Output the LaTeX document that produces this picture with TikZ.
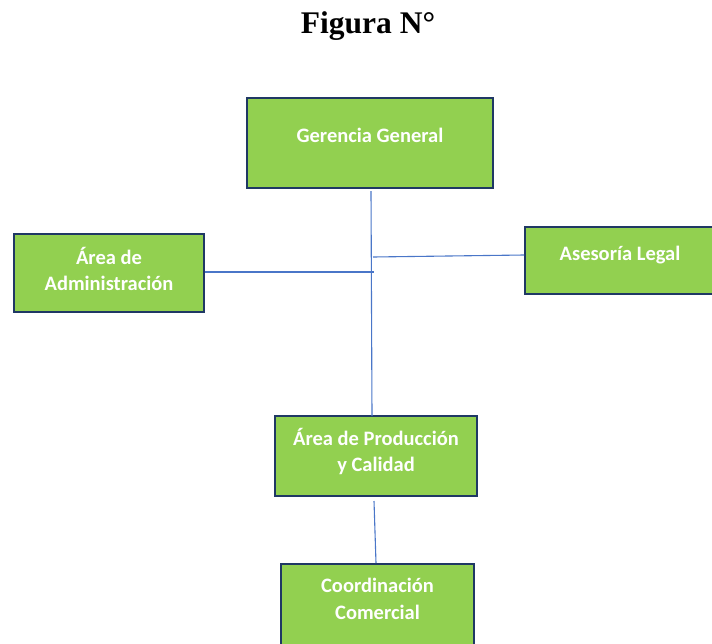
\documentclass[tikz,border=0pt]{standalone}
\usepackage{fontspec}
\setmainfont{Liberation Serif}
\newfontfamily\boxfont{Carlito}
\definecolor{boxfill}{HTML}{92D050}
\definecolor{boxline}{HTML}{1F3864}
\definecolor{linkblue}{HTML}{4A76C8}
\begin{document}
\begin{tikzpicture}[x=1pt,y=1pt,
  orgbox/.style={draw=boxline, line width=2pt, fill=boxfill, inner sep=0pt},
  boxtext/.style={text=white, font=\boxfont\bfseries\fontsize{20.5}{26.5}\selectfont, align=center, inner sep=0pt},
  conn/.style={draw=linkblue, line width=1.1pt}]
  \useasboundingbox (0,0) rectangle (712,-643);

  % title
  \node[font=\bfseries\fontsize{31.5}{36}\selectfont, anchor=base] (title) at (368,-33) {Figura N°};

  % boxes (text sits a little above each box's centre)
  \node[orgbox, minimum width=246pt, minimum height=90pt,
        label={[boxtext, yshift=8pt]center:Gerencia General}] (gg) at (370,-143) {};
  \node[orgbox, minimum width=190pt, minimum height=78pt,
        label={[boxtext, yshift=4pt]center:Área de\\Administración}] (adm) at (109,-273) {};
  \node[orgbox, minimum width=190pt, minimum height=67pt,
        label={[boxtext, yshift=5pt]center:Asesoría Legal}] (legal) at (620,-260.5) {};
  \node[orgbox, minimum width=202pt, minimum height=80pt,
        label={[boxtext, yshift=4.5pt]center:Área de Producción\\y Calidad}] (prod) at (376,-456) {};
  \node[orgbox, minimum width=193pt, minimum height=100pt,
        label={[boxtext, yshift=15pt]center:Coordinación\\Comercial}] (coord) at (377.5,-614) {};

  % junction points on the trunk line
  \coordinate (trunktop) at (371,-191);
  \coordinate (trunkbot) at (372,-416);
  \coordinate (legaljoin) at (373,-257);
  \coordinate (admjoin) at (374,-272);
  \coordinate (prodout) at (374,-501);

  % connectors
  \draw[conn] (trunktop) -- (trunkbot);
  \draw[conn] (legaljoin) -- (legal.west |- 0,-255);
  \draw[conn] (adm.east |- admjoin) -- (admjoin);
  \draw[conn] (prodout) -- (coord.north -| 376,0);
\end{tikzpicture}
\end{document}
